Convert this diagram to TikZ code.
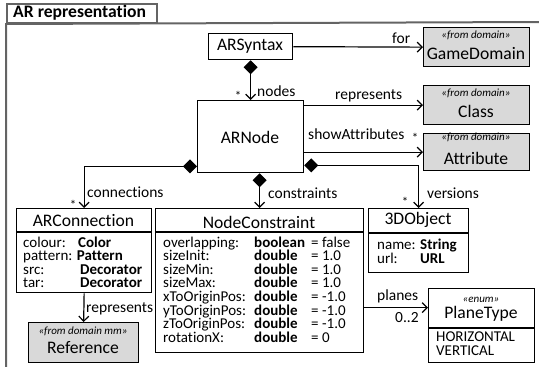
\documentclass[tikz,border=0pt]{standalone}
\usepackage{fontspec}
\setmainfont{Carlito}[Ligatures=NoCommon]
\usetikzlibrary{arrows.meta,calc}
\definecolor{domfill}{HTML}{D9D9D9}
\definecolor{framegray}{HTML}{646464}
\newcommand{\clsf}{\fontsize{17.6}{20}\selectfont}
\newcommand{\attf}{\fontsize{15}{13.6}\selectfont}
\newcommand{\lblf}{\fontsize{15.5}{18}\selectfont}
\newcommand{\stf}{\fontsize{11}{13}\selectfont\itshape}
\newcommand{\mulf}{\fontsize{13}{15}\selectfont}
\begin{document}
\begin{tikzpicture}[x=1pt,y=-1pt,
  box/.style={draw, line width=1.3pt, inner sep=0, anchor=north west},
  dombox/.style={box, fill=domfill},
  txt/.style={inner sep=0, anchor=base},
  txtw/.style={inner sep=0, anchor=base west},
  arr/.style={line width=1.2pt, -{Straight Barb[length=5pt,width=10pt]}},
  comp/.style={line width=1.2pt, {Diamond[length=14pt,width=14pt]}-{Straight Barb[length=5pt,width=10pt]}},
  divline/.style={line width=1.3pt}]
\useasboundingbox (0,0) rectangle (539,367);
% frame
\node[draw=framegray, line width=2pt, inner sep=0, anchor=north west, minimum width=150pt, minimum height=19pt] (tab) at (6,3) {};
\node[txtw] (tabtitle) at (13,17.3) {\clsf\bfseries AR representation};
\draw[framegray, line width=2pt] (6,367) -- (tab.south west) -- (539,22);
% boxes
\node[box, minimum width=84pt, minimum height=26pt] (syn) at (208,33) {};
\node[dombox, minimum width=106pt, minimum height=39pt] (gd) at (423,27) {};
\node[dombox, minimum width=106pt, minimum height=39pt] (cls) at (423,85) {};
\node[dombox, minimum width=106pt, minimum height=37pt] (attr) at (423,133) {};
\node[box, minimum width=106pt, minimum height=72pt] (arn) at (197,100) {};
\node[box, minimum width=135pt, minimum height=84pt] (con) at (16,208) {};
\node[box, minimum width=208pt, minimum height=144pt] (nc) at (155,208) {};
\node[box, minimum width=100pt, minimum height=64pt] (obj) at (368,208) {};
\node[dombox, minimum width=110pt, minimum height=40pt] (ref) at (28,322) {};
\node[box, minimum width=106pt, minimum height=74pt] (pt) at (428,288) {};
% dividers
\draw[divline] (con.west |- 0,232) -- (con.east |- 0,232);
\draw[divline] (nc.west |- 0,232) -- (nc.east |- 0,232);
\draw[divline] (obj.west |- 0,233) -- (obj.east |- 0,233);
\draw[divline] (pt.west |- 0,328) -- (pt.east |- 0,328);
% titles
\node[txt] (synt) at (250,50) {\clsf ARSyntax};
\node[txt] (gds) at (476,38.5) {\stf «from domain»};
\node[txt] (gdt) at (476,59) {\clsf GameDomain};
\node[txt] (clss) at (476,96.5) {\stf «from domain»};
\node[txt] (clst) at (476,117.5) {\clsf Class};
\node[txt] (attrs) at (476,140) {\stf «from domain»};
\node[txt] (attrt) at (476,164.5) {\clsf Attribute};
\node[txt] (arnt) at (250,143) {\clsf ARNode};
\node[txt] (cont) at (83.5,226.5) {\clsf ARConnection};
\node[txt] (nct) at (259,228) {\clsf NodeConstraint};
\node[txt] (objt) at (418,224) {\clsf 3DObject};
\node[txt] (refs) at (83,334) {\stf «from domain mm»};
\node[txt] (reft) at (83,353) {\clsf Reference};
\node[txt] (pts) at (481,302) {\stf «enum»};
\node[txt] (ptt) at (481,318) {\clsf PlaneType};
% attributes
\node[txtw] (ca1) at (23,247) {\attf colour:};
\node[txtw] (ct1) at (78,247) {\attf\bfseries Color};
\node[txtw] (ca2) at (23,260.6) {\attf pattern: \textbf{Pattern}};
\node[txtw] (ca3) at (23,274.2) {\attf src:};
\node[txtw] (ct3) at (80,274.2) {\attf\bfseries Decorator};
\node[txtw] (ca4) at (23,287.8) {\attf tar:};
\node[txtw] (ct4) at (80,287.8) {\attf\bfseries Decorator};
\foreach \an/\at/\av [count=\i from 0] in {overlapping:/boolean/{= false},sizeInit:/double/{= 1.0},sizeMin:/double/{= 1.0},sizeMax:/double/{= 1.0},xToOriginPos:/double/{= -1.0},yToOriginPos:/double/{= -1.0},zToOriginPos:/double/{= -1.0},rotationX:/double/{= 0}}{
  \node[txtw] (nca\i) at (163,247+13.65*\i) {\attf \an};
  \node[txtw] (nct\i) at (254,247+13.65*\i) {\attf\bfseries \at};
  \node[txtw] (ncv\i) at (311,247+13.65*\i) {\attf \av};
}
\node[txtw] (oa1) at (377,249.5) {\attf name: \textbf{String}};
\node[txtw] (oa2) at (377,263.3) {\attf url:};
\node[txtw] (ot2) at (420,263.3) {\attf\bfseries URL};
\node[txtw] (pv1) at (436,341) {\attf HORIZONTAL};
\node[txtw] (pv2) at (436,355) {\attf VERTICAL};
% connectors
\draw[arr] (syn.east) -- (gd.west);
\draw[comp] (syn.south) -- (arn.north);
\draw[arr] (cls.west -| arn.east) -- (cls.west);
\draw[arr] (attr.west -| arn.east) -- (attr.west);
\draw[comp] ([yshift=8pt]arn.south east) -| (obj.north);
\draw[comp] ([yshift=7pt]arn.south west) -| (con.north);
\draw[comp] (nc.north |- arn.south) -- (nc.north);
\draw[arr] (con.south) -- (ref.north);
\coordinate (ptin) at ([yshift=18pt]pt.west);
\draw[arr] (nc.east |- ptin) -- (ptin);
% labels
\node[txtw] (lfor) at (392,43) {\lblf for};
\node[txtw] (lnodes) at (257,96) {\lblf nodes};
\node[txt] (mnodes) at (238,100) {\mulf *};
\node[txtw] (lrep) at (335,99) {\lblf represents};
\node[txtw] (lshow) at (308,139) {\lblf showAttributes};
\node[txt] (mshow) at (415,142) {\mulf *};
\node[txtw] (lconn) at (87,197) {\lblf connections};
\node[txt] (mconn) at (73,209) {\mulf *};
\node[txtw] (lcons) at (268,198) {\lblf constraints};
\node[txtw] (lvers) at (427,198) {\lblf versions};
\node[txt] (mvers) at (405,206) {\mulf *};
\node[txtw] (lrep2) at (86,312) {\lblf represents};
\node[txtw] (lplanes) at (377,300) {\lblf planes};
\node[txtw] (lmult) at (395,322) {\lblf 0..2};
\end{tikzpicture}
\end{document}
